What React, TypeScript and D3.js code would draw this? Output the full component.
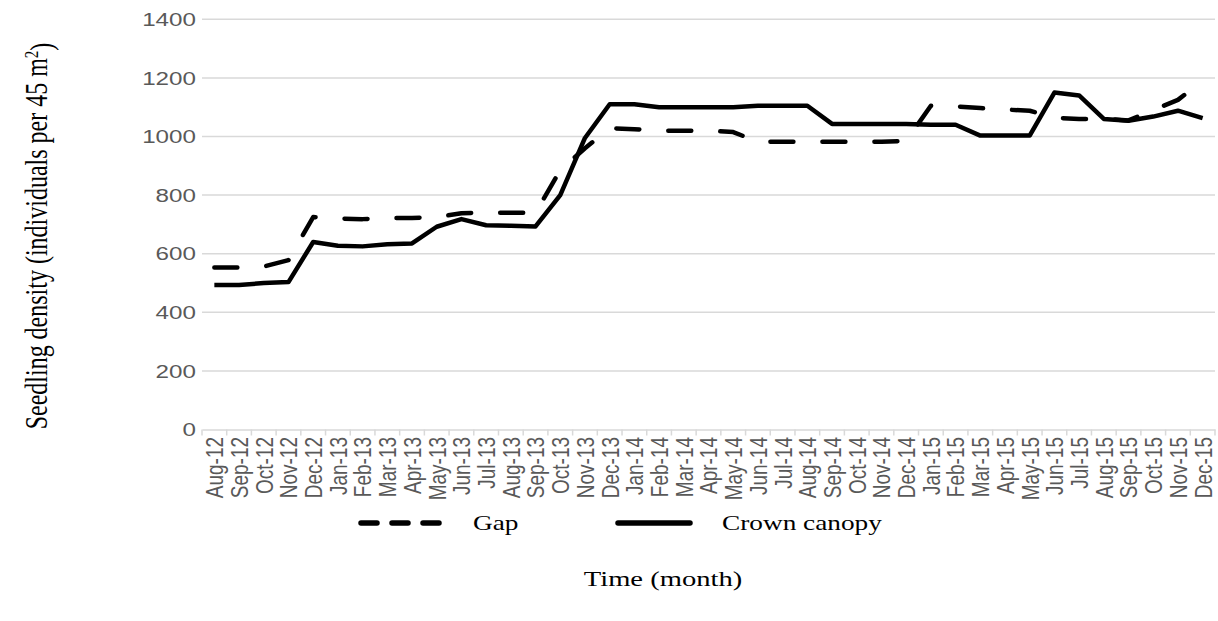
import { useEffect, useRef } from 'react'
import * as d3 from 'd3'

// Months on the x axis (Aug 2012 - Dec 2015)
const months = [
  'Aug-12', 'Sep-12', 'Oct-12', 'Nov-12', 'Dec-12',
  'Jan-13', 'Feb-13', 'Mar-13', 'Apr-13', 'May-13', 'Jun-13', 'Jul-13', 'Aug-13', 'Sep-13', 'Oct-13', 'Nov-13', 'Dec-13',
  'Jan-14', 'Feb-14', 'Mar-14', 'Apr-14', 'May-14', 'Jun-14', 'Jul-14', 'Aug-14', 'Sep-14', 'Oct-14', 'Nov-14', 'Dec-14',
  'Jan-15', 'Feb-15', 'Mar-15', 'Apr-15', 'May-15', 'Jun-15', 'Jul-15', 'Aug-15', 'Sep-15', 'Oct-15', 'Nov-15', 'Dec-15',
]

// Seedling density, individuals per 45 m2
const gap = [
  553, 553, 556, 578, 725,
  720, 718, 722, 722, 725, 738, 740, 740, 740, 885, 960, 1028,
  1025, 1020, 1020, 1020, 1015, 982, 982, 982, 982, 982, 982, 985,
  1105, 1103, 1097, 1092, 1088, 1064, 1060, 1060, 1055, 1090, 1125, 1190,
]

const crownCanopy = [
  493, 493, 500, 503, 640,
  627, 625, 632, 635, 692, 718, 697, 695, 693, 800, 995, 1110,
  1110, 1100, 1100, 1100, 1100, 1105, 1105, 1105, 1043, 1043, 1043, 1043,
  1040, 1040, 1003, 1003, 1003, 1150, 1140, 1060, 1054, 1068, 1088, 1063,
]

const yTicks = [0, 200, 400, 600, 800, 1000, 1200, 1400]

const W = 1218
const H = 621
const STRETCH = 1.3 // the figure is widened horizontally

const App = () => {
  const svgRef = useRef<SVGSVGElement | null>(null)

  useEffect(() => {
    if (!svgRef.current) return
    const svg = d3.select(svgRef.current)
    svg.selectAll('*').remove()

    const left = 202
    const right = 1215
    const top = 19.3
    const bottom = 429.5

    const x = d3.scaleBand<string>().domain(months).range([left, right])
    const y = d3.scaleLinear().domain([0, 1400]).range([bottom, top])
    const cx = (m: string) => (x(m) as number) + x.bandwidth() / 2

    const gridColor = '#d9d9d9'
    const labelColor = '#595959'
    const sans = '"Liberation Sans", Arial, sans-serif'
    const serif = '"Liberation Serif", "Times New Roman", serif'

    // horizontal grid lines
    svg.append('g')
      .selectAll('line')
      .data(yTicks.filter((d) => d > 0))
      .enter()
      .append('line')
      .attr('x1', left)
      .attr('x2', right)
      .attr('y1', (d) => y(d))
      .attr('y2', (d) => y(d))
      .attr('stroke', gridColor)
      .attr('stroke-width', 1.5)

    // y tick labels
    svg.append('g')
      .selectAll('text')
      .data(yTicks)
      .enter()
      .append('text')
      .attr('transform', (d) => `translate(196,${y(d)}) scale(${STRETCH * 0.98},1)`)
      .attr('text-anchor', 'end')
      .attr('dy', '0.35em')
      .style('font-family', sans)
      .style('font-size', '19px')
      .style('fill', labelColor)
      .text((d) => d)

    // x axis
    const xAxis = svg.append('g')
      .attr('transform', `translate(0,${bottom})`)
      .call(d3.axisBottom(x).tickSize(0).tickFormat(() => ''))
    xAxis.select('.domain').attr('stroke', gridColor).attr('stroke-width', 1.5)

    const boundaries = months.map((m) => x(m) as number).concat([right])
    xAxis.selectAll('.tick-b')
      .data(boundaries)
      .enter()
      .append('line')
      .attr('class', 'tick-b')
      .attr('x1', (d) => d)
      .attr('x2', (d) => d)
      .attr('y1', 0)
      .attr('y2', 6)
      .attr('stroke', gridColor)
      .attr('stroke-width', 1.5)

    // x tick labels, rotated
    svg.append('g')
      .selectAll('text')
      .data(months)
      .enter()
      .append('text')
      .attr('transform', (d) => `translate(${cx(d)},437) scale(${STRETCH},1) rotate(-90)`)
      .attr('text-anchor', 'end')
      .attr('dy', '0.36em')
      .style('font-family', sans)
      .style('font-size', '19px')
      .style('fill', labelColor)
      .text((d) => d)

    // lines
    const line = d3.line<number>()
      .x((_, i) => cx(months[i]))
      .y((d) => y(d))

    svg.append('path')
      .datum(gap)
      .attr('d', line)
      .attr('fill', 'none')
      .attr('stroke', '#000')
      .attr('stroke-width', 4.5)
      .attr('stroke-linecap', 'round')
      .attr('stroke-linejoin', 'round')
      .attr('stroke-dasharray', '23 29')

    svg.append('path')
      .datum(crownCanopy)
      .attr('d', line)
      .attr('fill', 'none')
      .attr('stroke', '#000')
      .attr('stroke-width', 4.5)
      .attr('stroke-linejoin', 'round')

    // y axis title
    const yTitle = svg.append('text')
      .attr('transform', `translate(36,236) scale(${STRETCH},1) rotate(-90)`)
      .attr('text-anchor', 'middle')
      .attr('dy', '0.35em')
      .style('font-family', serif)
      .style('font-size', '24px')
      .style('fill', '#000')
    yTitle.append('tspan').text('Seedling density (individuals per 45 m')
    yTitle.append('tspan').attr('dy', '-0.45em').style('font-size', '15px').text('2')
    yTitle.append('tspan').attr('dy', '0.45em').text(')')

    // legend
    const legendY = 523
    svg.append('line')
      .attr('x1', 361).attr('x2', 443)
      .attr('y1', legendY).attr('y2', legendY)
      .attr('stroke', '#000')
      .attr('stroke-width', 5.5)
      .attr('stroke-linecap', 'round')
      .attr('stroke-dasharray', '16 15')
    svg.append('text')
      .attr('transform', `translate(473,530) scale(${STRETCH},1)`)
      .style('font-family', serif)
      .style('font-size', '21px')
      .text('Gap')

    svg.append('line')
      .attr('x1', 618).attr('x2', 690)
      .attr('y1', legendY).attr('y2', legendY)
      .attr('stroke', '#000')
      .attr('stroke-width', 5.5)
      .attr('stroke-linecap', 'round')
    svg.append('text')
      .attr('transform', `translate(722,530) scale(${STRETCH},1)`)
      .style('font-family', serif)
      .style('font-size', '21px')
      .text('Crown canopy')

    // x axis title
    svg.append('text')
      .attr('transform', `translate(663,586) scale(${STRETCH},1)`)
      .attr('text-anchor', 'middle')
      .style('font-family', serif)
      .style('font-size', '22px')
      .text('Time (month)')
  }, [])

  return (
    <svg
      ref={svgRef}
      width={W}
      height={H}
      style={{ position: 'absolute', left: 0, top: 0, background: '#fff' }}
    />
  )
}

export default App
